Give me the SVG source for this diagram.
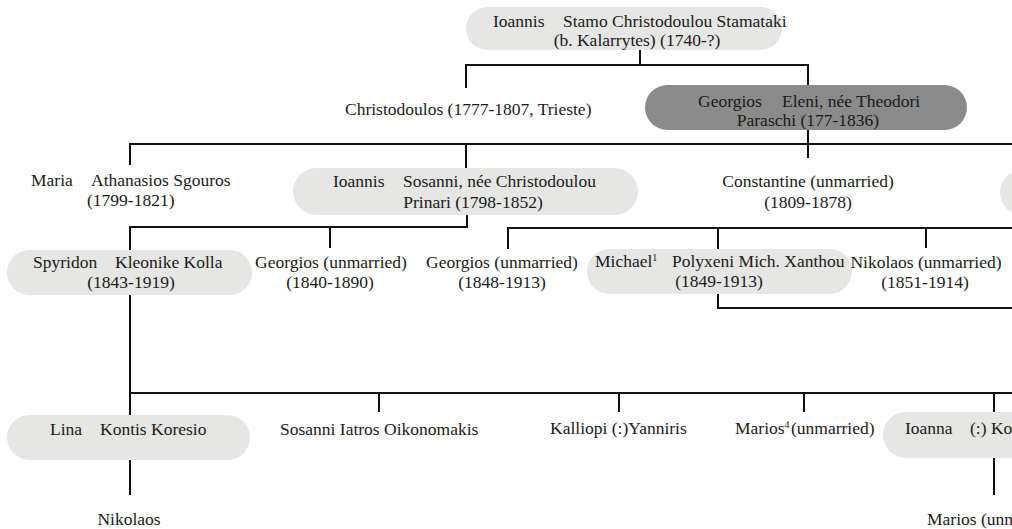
<svg xmlns="http://www.w3.org/2000/svg" width="1012" height="529" viewBox="0 0 1012 529">
<style>
.t{font-family:"Liberation Serif","Times New Roman",serif;font-size:17.5px;fill:#1a1a1a}
.c{text-anchor:middle}
.p{fill:#e6e6e4}
.d{fill:#8b8b8b}
.ln{fill:none;stroke:#111;stroke-width:2}
.sup{font-size:10px}
</style>
<rect width="1012" height="529" fill="#fff"/>
<g id="connectors" class="ln">
<path d="M640,50 V65 M466,88 V65 H808 V144"/>
<path d="M130,165 V144 H1012 M466,144 V168 M808,144 V158"/>
<path d="M467,215 V227 H130 V415 M330,227 V248"/>
<path d="M508,249 V228 H1012 M718,228 V249 M926,228 V248"/>
<path d="M718,294 V308 H1012"/>
<path d="M130,393 H1012 M379,393 V412 M619,393 V412 M804,393 V412 M994,393 V412"/>
<path d="M130,460 V495 M994,458 V495"/>
</g>
<g id="n-ioannis-stamo">
<rect class="p" x="466" y="7" width="316" height="43" rx="21.5"/>
<text class="t" y="27"><tspan x="493">Ioannis</tspan><tspan x="563">Stamo Christodoulou Stamataki</tspan></text>
<text class="t c" x="637" y="46">(b. Kalarrytes) (1740-?)</text>
</g>
<g id="n-christodoulos">
<text class="t" x="345" y="115">Christodoulos (1777-1807, Trieste)</text>
</g>
<g id="n-georgios-eleni">
<rect class="d" x="645" y="85" width="322" height="45" rx="22.5"/>
<text class="t" y="107"><tspan x="698">Georgios</tspan><tspan x="782">Eleni, née Theodori</tspan></text>
<text class="t c" x="808" y="126">Paraschi (177-1836)</text>
</g>
<g id="n-maria">
<text class="t" y="186"><tspan x="31">Maria</tspan><tspan x="91">Athanasios Sgouros</tspan></text>
<text class="t" x="87" y="206">(1799-1821)</text>
</g>
<g id="n-ioannis-sosanni">
<rect class="p" x="293" y="168" width="345" height="47" rx="23.5"/>
<text class="t" y="187"><tspan x="333">Ioannis</tspan><tspan x="403">Sosanni, née Christodoulou</tspan></text>
<text class="t c" x="473" y="208">Prinari (1798-1852)</text>
</g>
<g id="n-constantine">
<text class="t c" x="808" y="187">Constantine (unmarried)</text>
<text class="t c" x="808" y="208">(1809-1878)</text>
</g>
<g id="n-right-cut">
<rect class="p" x="1000" y="170" width="60" height="45" rx="22.5"/>
</g>
<g id="n-spyridon">
<rect class="p" x="7" y="250" width="245" height="45" rx="22.5"/>
<text class="t" y="268"><tspan x="33">Spyridon</tspan><tspan x="115">Kleonike Kolla</tspan></text>
<text class="t c" x="131" y="288">(1843-1919)</text>
</g>
<g id="n-georgios-1840">
<text class="t c" x="331" y="268">Georgios (unmarried)</text>
<text class="t c" x="330" y="288">(1840-1890)</text>
</g>
<g id="n-georgios-1848">
<text class="t c" x="502" y="268">Georgios (unmarried)</text>
<text class="t c" x="502" y="288">(1848-1913)</text>
</g>
<g id="n-michael">
<rect class="p" x="587" y="249" width="265" height="45" rx="22.5"/>
<text class="t" y="267"><tspan x="595">Michael</tspan><tspan class="sup" dy="-6">1</tspan><tspan x="672" dy="6">Polyxeni Mich. Xanthou</tspan></text>
<text class="t c" x="719" y="287">(1849-1913)</text>
</g>
<g id="n-nikolaos-1851">
<text class="t c" x="926" y="268">Nikolaos (unmarried)</text>
<text class="t c" x="925" y="288">(1851-1914)</text>
</g>
<g id="n-lina">
<rect class="p" x="7" y="415" width="243" height="45" rx="22.5"/>
<text class="t" y="435"><tspan x="50">Lina</tspan><tspan x="100">Kontis Koresio</tspan></text>
</g>
<g id="n-sosanni">
<text class="t" x="280" y="435">Sosanni Iatros Oikonomakis</text>
</g>
<g id="n-kalliopi">
<text class="t" x="550" y="434">Kalliopi (:)Yanniris</text>
</g>
<g id="n-marios4">
<text class="t" y="434"><tspan x="735">Marios</tspan><tspan class="sup" dy="-6">4</tspan><tspan x="791" dy="6">(unmarried)</tspan></text>
</g>
<g id="n-ioanna">
<rect class="p" x="883" y="412" width="200" height="46" rx="23"/>
<text class="t" y="434"><tspan x="905">Ioanna</tspan><tspan x="970">(:) Ko</tspan></text>
</g>
<g id="n-nikolaos">
<text class="t c" x="129" y="525">Nikolaos</text>
</g>
<g id="n-marios">
<text class="t" x="927" y="525">Marios (unm</text>
</g>
</svg>
